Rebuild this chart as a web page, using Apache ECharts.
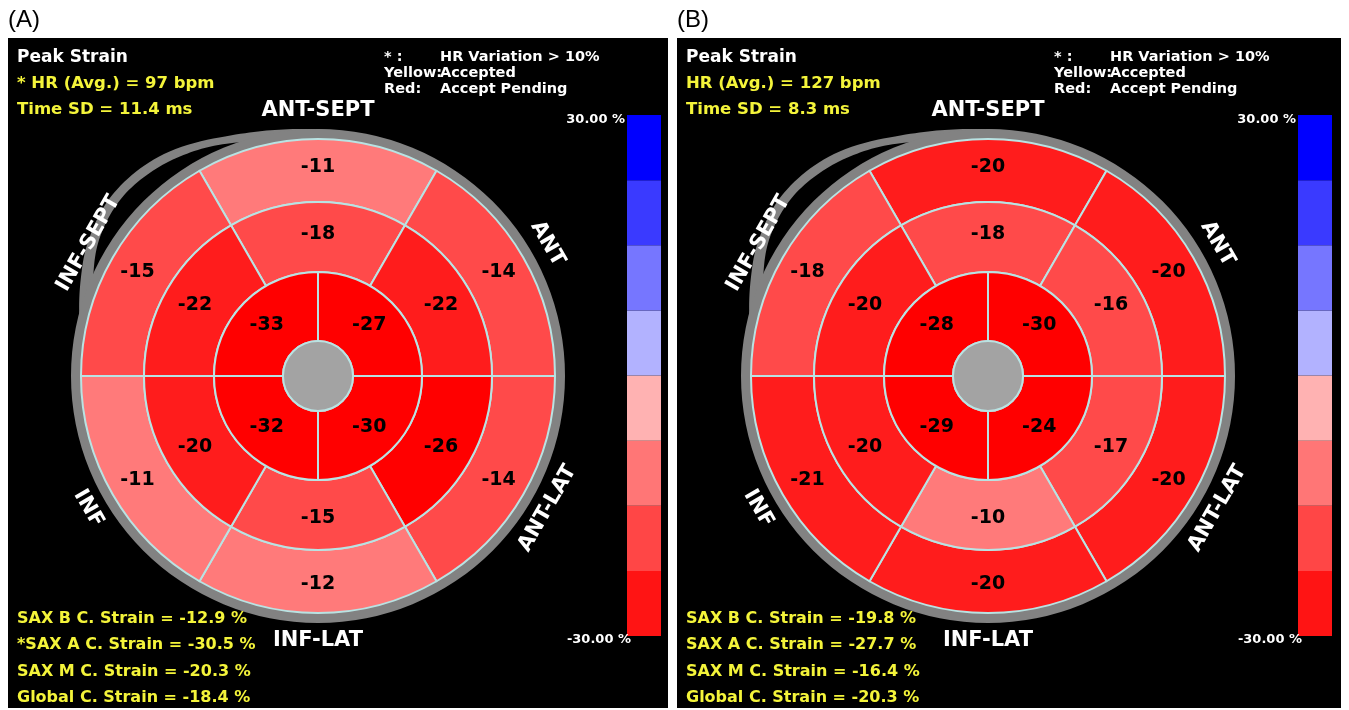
<!DOCTYPE html>
<html><head><meta charset="utf-8">
<script src="https://cdn.jsdelivr.net/npm/echarts@6/dist/echarts.min.js"></script>
<style>html,body{margin:0;padding:0;background:#fff}#c{width:1349px;height:710px}</style>
</head><body><div id="c"></div>
<script>
// ---------------- data ----------------
const panelLabels = ['(A)', '(B)'];
const basalSegments = ['ANT-SEPT', 'ANT', 'ANT-LAT', 'INF-LAT', 'INF', 'INF-SEPT'];
const midSegments = ['ant-sept', 'ant', 'ant-lat', 'inf-lat', 'inf', 'inf-sept'];
const apicalSegments = ['ant', 'lat', 'inf', 'sept'];
const basalA = [-11, -14, -14, -12, -11, -15];
const midA = [-18, -22, -26, -15, -20, -22];
const apicalA = [-27, -30, -32, -33];
const basalB = [-20, -20, -20, -20, -21, -18];
const midB = [-18, -16, -17, -10, -20, -20];
const apicalB = [-30, -24, -29, -28];
const headerA = ['Peak Strain', '* HR (Avg.) = 97 bpm', 'Time SD = 11.4 ms'];
const headerB = ['Peak Strain', 'HR (Avg.) = 127 bpm', 'Time SD = 8.3 ms'];
const footerA = ['SAX B C. Strain = -12.9 %', '*SAX A C. Strain = -30.5 %', 'SAX M C. Strain = -20.3 %', 'Global C. Strain = -18.4 %'];
const footerB = ['SAX B C. Strain = -19.8 %', 'SAX A C. Strain = -27.7 %', 'SAX M C. Strain = -16.4 %', 'Global C. Strain = -20.3 %'];
const legendKeys = ['* :', 'Yellow:', 'Red:'];
const legendVals = ['HR Variation > 10%', 'Accepted', 'Accept Pending'];
const wallAngles = [90, 30, -30, -90, -150, 150];
const scaleEnds = ['30.00 %', '-30.00 %'];
const bandEdges = [-30, -22.5, -15, -7.5, 0, 7.5, 15, 22.5, 30];

// ---------------- style ----------------
const FONT = '"DejaVu Sans", Verdana, sans-serif';
const bandColors = ['#ff1414', '#ff4646', '#ff7676', '#ffb2b2', '#b2b2ff', '#7676ff', '#3a3aff', '#0000ff'];
const segColorSteps = [[-23.5, '#ff0000'], [-18.5, '#ff1c1c'], [-12.5, '#ff4a4a'], [-7, '#ff7a7a'], [0, '#ffb2b2']];
function strainColor(v) {
  for (const [t, c] of segColorSteps) if (v <= t) return c;
  return '#b2b2ff';
}
const LINE = '#b9e3e3';
const YELLOW = '#f4f43a';
const GRAY = '#828282';
const R = { apex: 35, apical: 104, mid: 174, basal: 237, ring: 247 };
// outline of the decorative gray "swoosh" outside the wall (angle deg, radius px)
const swooshOuter = [[86, 246], [98, 249], [110, 256], [126, 271], [139, 274], [150, 266], [158, 256], [166, 246]];
const swooshBlack = [[108, 246], [118, 256], [128, 263], [138, 265], [148, 258], [156, 246]];
const panels = [
  { cx: 318, cy: 376, left: 8, right: 668, bar: 627, basal: basalA, mid: midA, apical: apicalA, header: headerA, footer: footerA, label: panelLabels[0], lx: 8 },
  { cx: 988, cy: 376, left: 677, right: 1341, bar: 1298, basal: basalB, mid: midB, apical: apicalB, header: headerB, footer: footerB, label: panelLabels[1], lx: 677 }
];

function ring(center, r0, r1, start, names, values) {
  return {
    type: 'pie', center: center, radius: [r0, r1], startAngle: start, clockwise: true,
    silent: true, animation: false, avoidLabelOverlap: false,
    label: { show: true, position: 'inside', formatter: p => String(p.data.strain),
      color: '#000', fontSize: 19, fontWeight: 'bold', fontFamily: FONT },
    labelLine: { show: false },
    itemStyle: { borderColor: LINE, borderWidth: 2 },
    emphasis: { disabled: true },
    data: names.map((n, i) => ({ name: n, value: 1, strain: values[i], itemStyle: { color: strainColor(values[i]) } }))
  };
}
function plain(center, r0, r1, color, border) {
  return {
    type: 'pie', center: center, radius: [r0, r1], silent: true, animation: false,
    label: { show: false }, labelLine: { show: false }, emphasis: { disabled: true },
    itemStyle: { color: color, borderColor: border || color, borderWidth: border ? 2 : 0 },
    data: [{ value: 1, name: '' }]
  };
}
function pt(cx, cy, r, deg) {
  const a = deg * Math.PI / 180;
  return [cx + r * Math.cos(a), cy - r * Math.sin(a)];
}
// smooth (Catmull-Rom) interpolation through (angle, radius) knots
function polarOutline(cx, cy, knots, steps) {
  const pts = [];
  const n = knots.length;
  for (let i = 0; i < n - 1; i++) {
    const p0 = knots[Math.max(0, i - 1)], p1 = knots[i], p2 = knots[i + 1], p3 = knots[Math.min(n - 1, i + 2)];
    for (let s = 0; s < steps; s++) {
      const t = s / steps, t2 = t * t, t3 = t2 * t;
      const f = (a, b, c, d) => 0.5 * (2 * b + (-a + c) * t + (2 * a - 5 * b + 4 * c - d) * t2 + (-a + 3 * b - 3 * c + d) * t3);
      pts.push(pt(cx, cy, f(p0[1], p1[1], p2[1], p3[1]), f(p0[0], p1[0], p2[0], p3[0])));
    }
  }
  const last = knots[n - 1];
  pts.push(pt(cx, cy, last[1], last[0]));
  // close back along an arc inside the wall (hidden under the rings)
  for (let a = last[0]; a >= knots[0][0]; a -= 2) pts.push(pt(cx, cy, 238, a));
  pts.push(pt(cx, cy, 238, knots[0][0]));
  return pts;
}
function swoosh(cx, cy) {
  return [
    { type: 'polygon', z: 1, shape: { points: polarOutline(cx, cy, swooshOuter, 12) }, style: { fill: GRAY } },
    { type: 'polygon', z: 1, shape: { points: polarOutline(cx, cy, swooshBlack, 12) }, style: { fill: '#000' } }
  ];
}
function txt(x, y, text, o) {
  o = o || {};
  return {
    type: 'text', z: 5, x: x, y: y, rotation: (o.rot || 0) * Math.PI / 180,
    style: { text: text, fill: o.color || '#fff', font: (o.weight || 'bold') + ' ' + (o.size || 16) + 'px ' + (o.family || FONT),
      textAlign: o.align || 'left', textVerticalAlign: 'middle' }
  };
}

const series = [], graphic = [], grid = [], xAxis = [], yAxis = [];
panels.forEach((p, idx) => {
  const c = [p.cx, p.cy];
  graphic.push({ type: 'rect', z: 0, shape: { x: p.left, y: 38, width: p.right - p.left, height: 670 }, style: { fill: '#000' } });
  graphic.push(txt(p.lx, 20, p.label, { color: '#000', weight: 'normal', size: 24, family: '"Liberation Sans", Arial, sans-serif' }));
  graphic.push(...swoosh(p.cx, p.cy));
  const hx = p.left + 9;
  [[58, 17], [84, 16.5], [110, 16.5]].forEach(([y, s], i) => graphic.push(txt(hx, y, p.header[i], { color: i === 0 ? '#fff' : YELLOW, size: s })));
  [619, 645, 672, 698].forEach((y, i) => graphic.push(txt(hx, y, p.footer[i], { color: YELLOW, size: 16 })));
  [57, 73, 89].forEach((y, i) => {
    graphic.push(txt(p.cx + 66, y, legendKeys[i], { size: 14.5 }));
    graphic.push(txt(p.cx + 122, y, legendVals[i], { size: 14.5 }));
  });
  basalSegments.forEach((w, i) => {
    const th = wallAngles[i];
    const q = pt(p.cx, p.cy, 265, th);
    const s = Math.sin(th * Math.PI / 180);
    const rot = s > 0.01 ? th - 90 : (s < -0.01 ? th + 90 : 0);
    graphic.push(txt(q[0], q[1], w, { size: 21, align: 'center', rot: rot }));
  });
  graphic.push(txt(p.bar - 2, 120, scaleEnds[0], { size: 13, align: 'right' }));
  graphic.push(txt(p.bar + 4, 640, scaleEnds[1], { size: 13, align: 'right' }));

  series.push(plain(c, R.basal - 2, R.ring, GRAY));
  series.push(ring(c, R.mid, R.basal, 120, basalSegments, p.basal));
  series.push(ring(c, R.apical, R.mid, 120, midSegments, p.mid));
  series.push(ring(c, R.apex, R.apical, 90, apicalSegments, p.apical));
  series.push(plain(c, 0, R.apex, '#a3a3a3', LINE));

  grid.push({ left: p.bar, top: 115, width: 34, height: 521 });
  xAxis.push({ type: 'value', gridIndex: idx, min: 0, max: 1, show: false });
  yAxis.push({ type: 'value', gridIndex: idx, min: -30, max: 30, show: false });
  series.push({
    type: 'custom', xAxisIndex: idx, yAxisIndex: idx, silent: true, animation: false,
    data: bandEdges.slice(0, -1).map((lo, i) => [lo, bandEdges[i + 1]]),
    renderItem: function (params, api) {
      const a = api.coord([0, api.value(1)]);
      const b = api.coord([1, api.value(0)]);
      return { type: 'rect', shape: { x: a[0], y: a[1], width: b[0] - a[0], height: b[1] - a[1] },
        style: { fill: bandColors[params.dataIndex] } };
    }
  });
});

const chart = echarts.init(document.getElementById('c'), null, { renderer: 'canvas' });
chart.setOption({ backgroundColor: '#fff', animation: false, grid, xAxis, yAxis, series, graphic });
</script></body></html>
